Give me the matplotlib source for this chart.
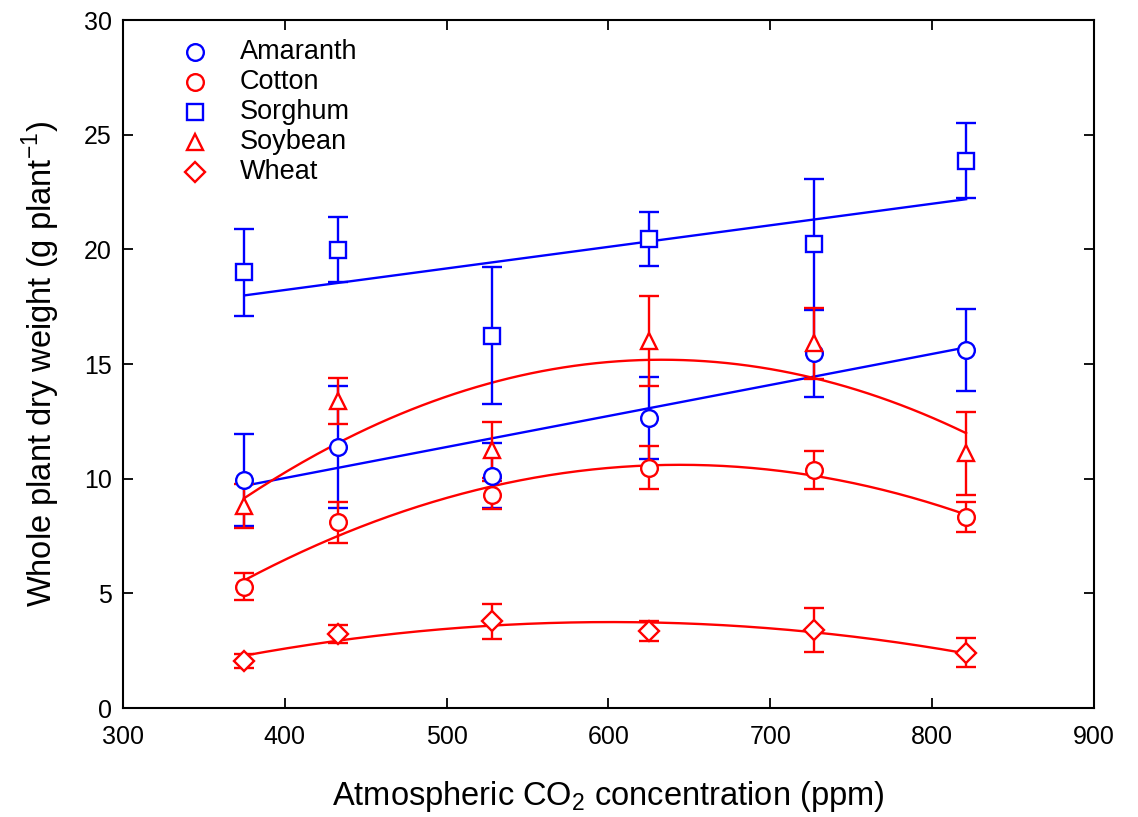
import numpy as np
import matplotlib
matplotlib.use('Agg')
import matplotlib.pyplot as plt

plt.rcParams['font.family'] = ['Liberation Sans', 'DejaVu Sans']
plt.rcParams['mathtext.fontset'] = 'custom'
plt.rcParams['mathtext.rm'] = 'Liberation Sans'

co2 = [375, 433, 528, 625, 727, 821]

amaranth = [9.94, 11.40, 10.12, 12.63, 15.47, 15.61]
amaranth_se = [2.0, 2.66, 1.42, 1.79, 1.89, 1.79]
cotton = [5.29, 8.10, 9.29, 10.48, 10.38, 8.34]
cotton_se = [0.58, 0.9, 0.6, 0.95, 0.82, 0.66]
sorghum = [19.0, 19.99, 16.24, 20.45, 20.24, 23.87]
sorghum_se = [1.9, 1.43, 2.97, 1.17, 2.83, 1.62]
soybean = [8.8, 13.4, 11.25, 16.0, 15.9, 11.1]
soybean_se = [0.95, 1.0, 1.2, 1.96, 1.56, 1.8]
wheat = [2.05, 3.23, 3.78, 3.36, 3.40, 2.41]
wheat_se = [0.3, 0.41, 0.75, 0.45, 0.94, 0.64]

blue = '#0000FF'
red = '#FF0000'

series = [
    ('Amaranth', amaranth, amaranth_se, blue, 'o', 1, 12),
    ('Cotton', cotton, cotton_se, red, 'o', 2, 12),
    ('Sorghum', sorghum, sorghum_se, blue, 's', 1, 11),
    ('Soybean', soybean, soybean_se, red, '^', 2, 12),
    ('Wheat', wheat, wheat_se, red, 'D', 2, 10),
]

fig = plt.figure(figsize=(11.38, 8.17), dpi=100)
ax = fig.add_axes([0.108, 0.1334, 0.8533, 0.8421])

x = np.array(co2, dtype=float)
xs = np.linspace(x.min(), x.max(), 200)
for name, vals, err, col, mk, deg, ms in series:
    coef = np.polyfit(x, vals, deg)
    ax.plot(xs, np.polyval(coef, xs), color=col, lw=1.7, zorder=2)
    ax.errorbar(x, vals, yerr=err, fmt=mk, color=col, ecolor=col, mfc='white',
                mec=col, mew=1.7, ms=ms, elinewidth=1.7, capsize=7.5,
                capthick=1.7, zorder=3)

# legend drawn by hand
for i, (name, vals, err, col, mk, deg, ms) in enumerate(series):
    yy = 0.953 - i * 0.0436
    ax.plot([0.0742], [yy], marker=mk, ms=ms, mfc='white', mec=col, mew=1.7,
            transform=ax.transAxes, clip_on=False, ls='none')
    ax.text(0.1205, yy, name, transform=ax.transAxes, fontsize=19.5,
            va='center', ha='left')

ax.set_xlim(300, 900)
ax.set_ylim(0, 30)
ax.set_xticks(range(300, 901, 100))
ax.set_yticks(range(0, 31, 5))
ax.tick_params(direction='in', length=7, width=1.3, labelsize=18,
               top=True, right=True, pad=8)
ax.tick_params(axis='x', pad=12)
for s in ax.spines.values():
    s.set_linewidth(1.5)

ax.set_xlabel('Atmospheric CO$_2$ concentration (ppm)', fontsize=23.5, labelpad=22)
ax.set_ylabel('Whole plant dry weight (g plant$^{-1}$)', fontsize=23.5, labelpad=16)

fig.savefig('out.png', dpi=100)
